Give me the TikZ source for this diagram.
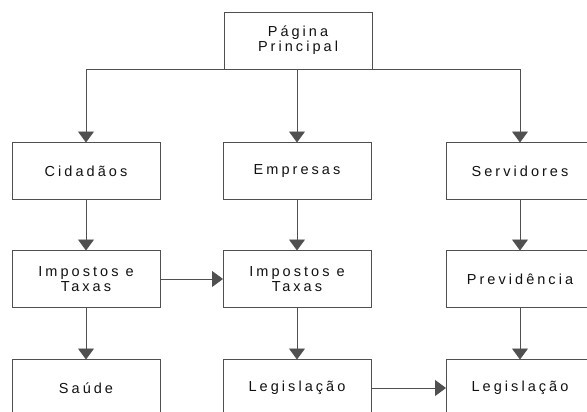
\documentclass[tikz,border=0pt]{standalone}
\usepackage{fontspec}
\setmainfont{Liberation Sans}[LetterSpace=21]
\usetikzlibrary{arrows.meta}
\definecolor{siteLine}{HTML}{505050}
\definecolor{siteText}{HTML}{111111}
\tikzset{
  site diagram/.style={
    x=1pt, y=-1pt,
    >={Triangle[length=11pt,width=16pt]},
    every node/.style={font=\fontsize{14.5}{15}\selectfont,
      text=siteText, inner sep=0pt, outer sep=0pt}
  },
  site box/.style={draw=siteLine, line width=0.9pt, fill=white,
    minimum width=148pt, minimum height=57pt, align=center},
  site link/.style={->, draw=siteLine, line width=0.9pt}
}

\begin{document}
\begin{tikzpicture}[site diagram]
    \useasboundingbox (0,0) rectangle (587,412);
    \node[site box] (main) at (298,40.5) {Página\\Principal};
    \node[site box] (cid) at (86,171) {Cidadãos};
    \node[site box] (emp) at (297,171) {Empresas};
    \node[site box] (serv) at (520,171) {Servidores};
    \node[site box] (imp1) at (86,279) {Impostos e\\Taxas};
    \node[site box] (imp2) at (297,279) {Impostos e\\Taxas};
    \node[site box] (prev) at (520,279) {Previdência};
    \node[site box] (saude) at (86,388) {Saúde};
    \node[site box] (leg1) at (297,388) {Legislação};
    \node[site box] (leg2) at (520,388) {Legislação};
    % ligacoes
    \draw[site link] (main.south west) -| (cid.north);
    \draw[site link] (main.south east) -| (serv.north);
    \draw[site link] (main.south -| emp.north) -- (emp.north);
    \draw[site link] (cid) -- (imp1);
    \draw[site link] (emp) -- (imp2);
    \draw[site link] (serv) -- (prev);
    \draw[site link] (imp1) -- (imp2);
    \draw[site link] (imp1) -- (saude);
    \draw[site link] (imp2) -- (leg1);
    \draw[site link] (prev) -- (leg2);
    \draw[site link] (leg1) -- (leg2);
\end{tikzpicture}
\end{document}
